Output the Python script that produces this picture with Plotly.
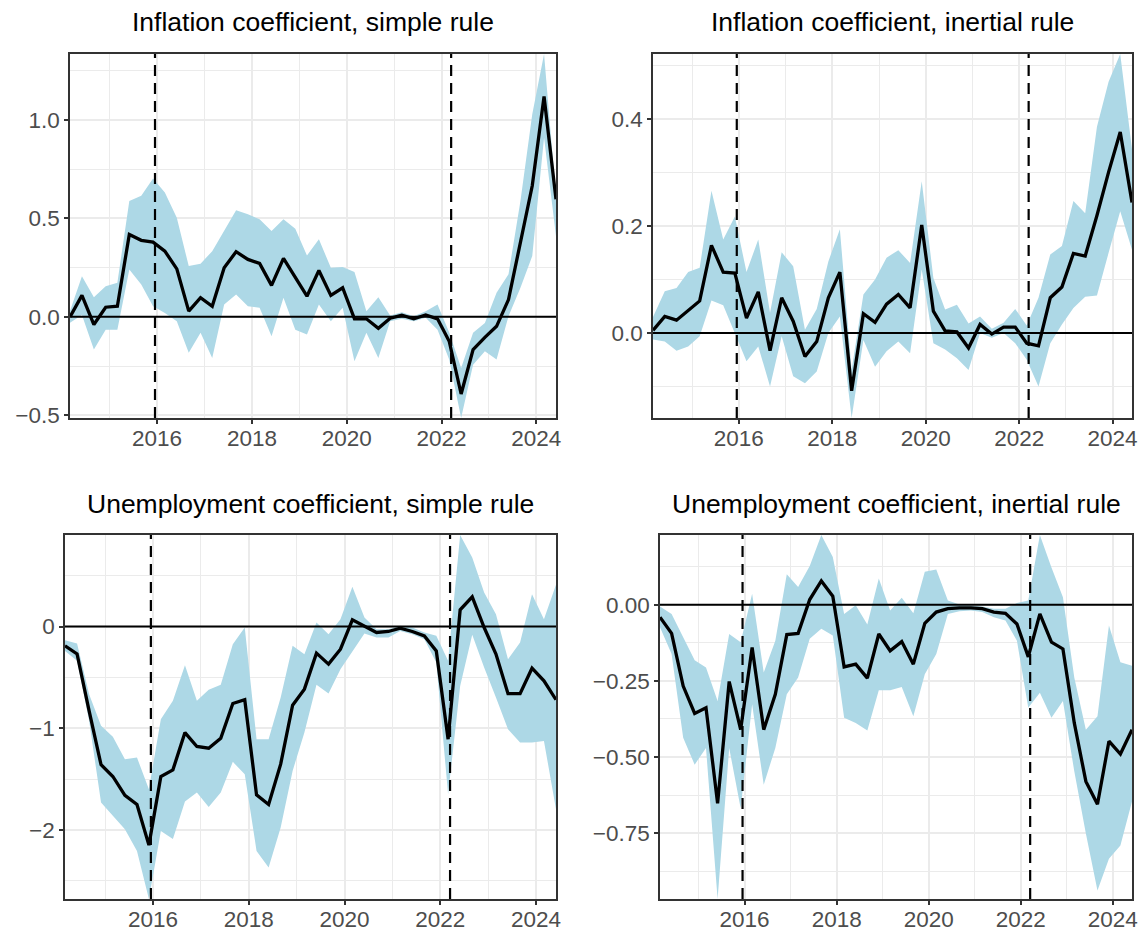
import plotly.graph_objects as go

# ---------------- data ----------------
dates = [
    "2014-03-01", "2014-06-01", "2014-09-01", "2014-12-01",
    "2015-03-01", "2015-06-01", "2015-09-01", "2015-12-01",
    "2016-03-01", "2016-06-01", "2016-09-01", "2016-12-01",
    "2017-03-01", "2017-06-01", "2017-09-01", "2017-12-01",
    "2018-03-01", "2018-06-01", "2018-09-01", "2018-12-01",
    "2019-03-01", "2019-06-01", "2019-09-01", "2019-12-01",
    "2020-03-01", "2020-06-01", "2020-09-01", "2020-12-01",
    "2021-03-01", "2021-06-01", "2021-09-01", "2021-12-01",
    "2022-03-01", "2022-06-01", "2022-09-01", "2022-12-01",
    "2023-03-01", "2023-06-01", "2023-09-01", "2023-12-01",
    "2024-03-01", "2024-06-01",
]
event_dates = ["2015-12-16", "2022-03-16"]

titles = [
    "Inflation coefficient, simple rule",
    "Inflation coefficient, inertial rule",
    "Unemployment coefficient, simple rule",
    "Unemployment coefficient, inertial rule",
]

infl_simple_mid = [0.00, 0.109, -0.039, 0.049, 0.054, 0.419, 0.389, 0.380, 0.334, 0.244,
                   0.029, 0.097, 0.054, 0.250, 0.331, 0.292, 0.272, 0.160, 0.297, 0.199,
                   0.105, 0.236, 0.109, 0.148, -0.010, -0.010, -0.058, -0.007, 0.008, -0.010,
                   0.010, -0.010, -0.124, -0.392, -0.166, -0.104, -0.048, 0.088, 0.377, 0.666,
                   1.120, 0.598]
infl_simple_lo = [-0.03, 0.01, -0.166, -0.065, -0.065, 0.241, 0.165, 0.054, 0.02, -0.022,
                  -0.183, -0.081, -0.209, 0.063, 0.114, 0.054, 0.046, -0.098, 0.097, -0.065,
                  -0.09, 0.063, -0.022, 0.046, -0.226, -0.081, -0.209, -0.022, -0.01, -0.022,
                  -0.005, -0.065, -0.217, -0.514, -0.243, -0.175, -0.217, 0.003, 0.148, 0.309,
                  0.912, 0.41]
infl_simple_hi = [0.03, 0.207, 0.10, 0.156, 0.173, 0.589, 0.615, 0.703, 0.632, 0.504,
                  0.258, 0.27, 0.334, 0.436, 0.542, 0.521, 0.496, 0.436, 0.496, 0.448,
                  0.312, 0.394, 0.25, 0.253, 0.228, 0.029, 0.10, 0.007, 0.024, 0.003,
                  0.029, 0.063, -0.08, -0.26, -0.081, -0.031, 0.122, 0.216, 0.589, 1.03,
                  1.336, 0.61]

infl_inert_mid = [0.005, 0.031, 0.024, 0.043, 0.06, 0.164, 0.114, 0.112, 0.028, 0.077,
                  -0.033, 0.066, 0.022, -0.044, -0.016, 0.066, 0.114, -0.108, 0.036, 0.02,
                  0.054, 0.072, 0.047, 0.202, 0.041, 0.004, 0.002, -0.028, 0.016, -0.002,
                  0.011, 0.011, -0.019, -0.024, 0.066, 0.086, 0.149, 0.144, 0.22, 0.301,
                  0.376, 0.244]
infl_inert_lo = [-0.012, -0.016, -0.033, -0.025, -0.006, 0.061, 0.052, 0.0, -0.053, -0.025,
                 -0.1, -0.006, -0.081, -0.094, -0.072, 0.0, 0.031, -0.159, -0.013, -0.063,
                 -0.034, -0.016, -0.038, 0.119, -0.019, -0.031, -0.047, -0.069, 0.0, -0.009,
                 0.0, -0.019, -0.05, -0.1, -0.019, 0.016, 0.047, 0.068, 0.07, 0.15,
                 0.228, 0.156]
infl_inert_hi = [0.03, 0.078, 0.084, 0.114, 0.122, 0.266, 0.175, 0.218, 0.114, 0.175,
                 0.038, 0.151, 0.125, 0.006, 0.045, 0.134, 0.194, -0.069, 0.072, 0.1,
                 0.141, 0.155, 0.131, 0.284, 0.103, 0.044, 0.053, 0.018, 0.031, 0.008,
                 0.019, 0.045, 0.014, 0.066, 0.147, 0.163, 0.247, 0.224, 0.386, 0.47,
                 0.522, 0.344]

unemp_simple_mid = [-0.19, -0.27, -0.83, -1.36, -1.475, -1.66, -1.75, -2.15, -1.475, -1.41,
                    -1.043, -1.18, -1.197, -1.10, -0.757, -0.72, -1.656, -1.75, -1.354, -0.774,
                    -0.616, -0.262, -0.37, -0.223, 0.066, 0.0, -0.059, -0.049, -0.016, -0.049,
                    -0.092, -0.24, -1.108, 0.164, 0.292, -0.01, -0.27, -0.66, -0.66, -0.41,
                    -0.534, -0.72]
unemp_simple_lo = [-0.24, -0.338, -0.928, -1.731, -1.862, -1.993, -2.207, -2.68, -2.01, -2.09,
                   -1.72, -1.633, -1.774, -1.633, -1.331, -1.452, -2.207, -2.37, -1.977, -1.42,
                   -1.043, -0.574, -0.66, -0.42, -0.246, -0.069, -0.108, -0.108, -0.043, -0.075,
                   -0.125, -0.354, -1.65, -0.584, -0.082, -0.403, -0.698, -1.01, -1.141, -1.141,
                   -1.125, -1.797]
unemp_simple_hi = [-0.134, -0.167, -0.666, -0.977, -1.085, -1.305, -1.289, -1.6, -0.911, -0.731,
                   -0.38, -0.731, -0.623, -0.574, -0.174, -0.01, -1.108, -1.108, -0.698, -0.19,
                   -0.272, 0.039, -0.075, 0.072, 0.39, 0.089, -0.026, -0.026, 0.007, -0.01,
                   -0.059, -0.092, -0.338, 0.9, 0.679, 0.334, 0.121, -0.321, -0.157, 0.318,
                   0.072, 0.41]

unemp_inert_mid = [-0.041, -0.094, -0.267, -0.357, -0.338, -0.652, -0.252, -0.41, -0.14, -0.41,
                   -0.294, -0.098, -0.094, 0.017, 0.078, 0.028, -0.204, -0.195, -0.241, -0.096,
                   -0.151, -0.121, -0.195, -0.061, -0.024, -0.013, -0.01, -0.01, -0.013, -0.024,
                   -0.028, -0.063, -0.171, -0.03, -0.123, -0.145, -0.388, -0.58, -0.655, -0.448,
                   -0.49, -0.41]
unemp_inert_lo = [-0.074, -0.162, -0.437, -0.525, -0.47, -0.966, -0.47, -0.668, -0.327, -0.591,
                  -0.47, -0.294, -0.239, -0.112, -0.079, -0.101, -0.371, -0.388, -0.413, -0.281,
                  -0.281, -0.27, -0.366, -0.228, -0.162, -0.03, -0.021, -0.019, -0.024, -0.041,
                  -0.052, -0.118, -0.338, -0.289, -0.371, -0.316, -0.547, -0.751, -0.938, -0.834,
                  -0.79, -0.646]
unemp_inert_hi = [-0.006, -0.03, -0.107, -0.182, -0.206, -0.316, -0.096, -0.123, 0.036, -0.222,
                  -0.118, 0.1, 0.058, 0.127, 0.229, 0.157, -0.03, -0.002, -0.065, 0.086,
                  -0.019, 0.023, -0.028, 0.108, 0.116, 0.014, 0.001, -0.002, -0.006, -0.013,
                  -0.013, 0.006, 0.014, 0.229, 0.122, 0.025, -0.239, -0.41, -0.366, -0.068,
                  -0.189, -0.2]

panels = [
    (infl_simple_mid, infl_simple_lo, infl_simple_hi),
    (infl_inert_mid, infl_inert_lo, infl_inert_hi),
    (unemp_simple_mid, unemp_simple_lo, unemp_simple_hi),
    (unemp_inert_mid, unemp_inert_lo, unemp_inert_hi),
]
y_dticks = [0.5, 0.2, 1.0, 0.25]
y_formats = [".1f", ".1f", "d", ".2f"]

# ---------------- layout geometry (page pixels) ----------------
W, H = 1141, 933
boxes = [  # left, right, top, bottom in page pixels
    (70, 556, 54, 418),
    (653, 1132, 54, 418),
    (65, 556, 535, 899),
    (660, 1132, 535, 899),
]
title_y = [22, 22, 504, 504]


def fx(px):
    return px / W


def fy(py):
    return 1 - py / H


FONT = "Liberation Sans, Arial, Helvetica, sans-serif"
GRID = "#EBEBEB"
BORDER = "#333333"
BAND = "#ADD8E6"
TICKFONT = dict(size=22.5, color="#4D4D4D", family=FONT)

fig = go.Figure()
layout = dict(
    width=W, height=H, margin=dict(l=0, r=0, t=0, b=0, autoexpand=False),
    paper_bgcolor="white", plot_bgcolor="white", showlegend=False,
    font=dict(family=FONT, color="#4D4D4D"),
    shapes=[], annotations=[],
)

common_axis = dict(
    ticks="outside", ticklen=4, tickwidth=1.5, tickcolor=BORDER,
    showline=True, linecolor=BORDER, linewidth=1.5, mirror=True,
    zeroline=False, tickfont=TICKFONT, automargin=False,
    ticklabeloverflow="allow", showgrid=True, gridcolor=GRID, gridwidth=2,
)

for i, (mid, lo, hi) in enumerate(panels):
    n = i + 1
    xa = "x" if n == 1 else f"x{n}"
    ya = "y" if n == 1 else f"y{n}"
    fig.add_trace(go.Scatter(x=dates, y=lo, mode="lines", line=dict(width=0),
                             xaxis=xa, yaxis=ya, hoverinfo="skip"))
    fig.add_trace(go.Scatter(x=dates, y=hi, mode="lines", line=dict(width=0),
                             fill="tonexty", fillcolor=BAND,
                             xaxis=xa, yaxis=ya, hoverinfo="skip"))
    fig.add_trace(go.Scatter(x=dates, y=mid, mode="lines",
                             line=dict(color="black", width=3.3),
                             xaxis=xa, yaxis=ya))

    l, r, t, b = boxes[i]
    xkey = "xaxis" if n == 1 else f"xaxis{n}"
    ykey = "yaxis" if n == 1 else f"yaxis{n}"
    layout[xkey] = dict(
        type="date", domain=[fx(l), fx(r)], anchor=ya,
        range=[dates[0], dates[-1]],
        tick0="2016-01-01", dtick="M24", tickformat="%Y",
        ticklabelstandoff=-5,
        minor=dict(tick0="2015-01-01", dtick="M12", showgrid=True,
                   gridcolor=GRID, gridwidth=1),
        **common_axis,
    )
    layout[ykey] = dict(
        domain=[fy(b), fy(t)], anchor=xa,
        range=[min(lo), max(hi)],
        tick0=0, dtick=y_dticks[i], tickformat=y_formats[i],
        minor=dict(tick0=0, dtick=y_dticks[i] / 2, showgrid=True,
                   gridcolor=GRID, gridwidth=1),
        **common_axis,
    )
    xdom = xa + " domain"
    ydom = ya + " domain"
    layout["shapes"].append(dict(type="line", xref=xdom, x0=0, x1=1, yref=ya, y0=0, y1=0,
                                 line=dict(color="black", width=2), layer="above"))
    for d in event_dates:
        layout["shapes"].append(dict(type="line", xref=xa, x0=d, x1=d, yref=ydom, y0=0, y1=1,
                                     line=dict(color="black", width=2.2, dash="11px,7px"),
                                     layer="above"))
    layout["annotations"].append(dict(
        text=titles[i], xref="paper", yref="paper",
        x=fx((l + r) / 2), y=fy(title_y[i]), xanchor="center", yanchor="middle",
        showarrow=False, font=dict(size=26.5, color="black", family=FONT),
    ))

fig.update_layout(**layout)
fig.write_html(
    "out.html",
    config={"displayModeBar": False, "responsive": False},
    post_script=("document.documentElement.style.margin='0';"
                 "document.documentElement.style.overflow='hidden';"
                 "document.body.style.margin='0';"
                 "document.body.style.overflow='hidden';"),
)
